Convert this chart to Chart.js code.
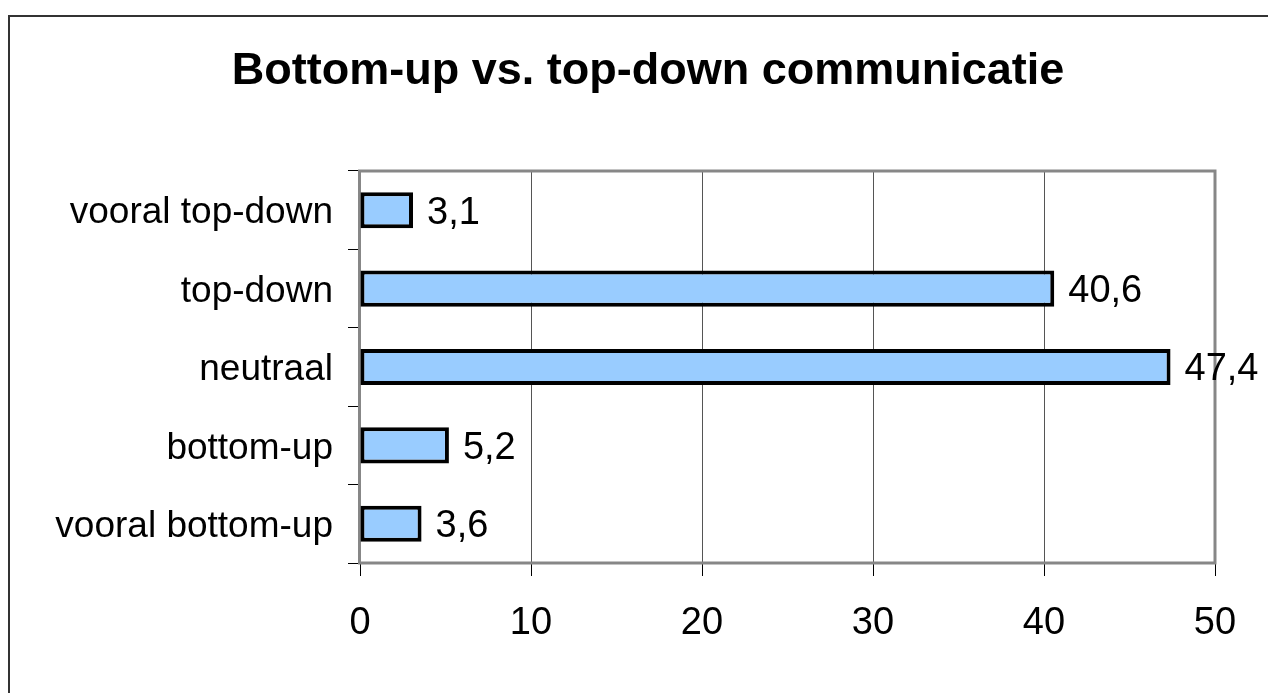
<!DOCTYPE html>
<html>
<head>
<meta charset="utf-8">
<script src="https://cdn.jsdelivr.net/npm/chart.js@4.4.1/dist/chart.umd.min.js"></script>
<style>
  html, body { margin: 0; padding: 0; background: #ffffff; }
  #wrap { position: absolute; left: 0; top: 0; width: 1268px; height: 693px; }
</style>
</head>
<body>
<div id="wrap"><canvas id="c" width="1268" height="693"></canvas></div>
<script>
const chartTitle = 'Bottom-up vs. top-down communicatie';
const categories = ['vooral top-down', 'top-down', 'neutraal', 'bottom-up', 'vooral bottom-up'];
const values = [3.1, 40.6, 47.4, 5.2, 3.6];
const xTicks = [0, 10, 20, 30, 40, 50];

const FONT = '"Liberation Sans", Arial, Helvetica, sans-serif';

const frame = {
  id: 'frame',
  beforeDraw(chart) {
    const ctx = chart.ctx;
    ctx.save();
    ctx.fillStyle = '#ffffff';
    ctx.fillRect(0, 0, chart.width, chart.height);
    ctx.strokeStyle = '#333333';
    ctx.lineWidth = 2;
    ctx.beginPath();
    ctx.moveTo(9, chart.height + 5);
    ctx.lineTo(9, 16);
    ctx.lineTo(chart.width + 5, 16);
    ctx.stroke();
    ctx.restore();
  },
  beforeDatasetsDraw(chart) {
    const a = chart.chartArea;
    const ctx = chart.ctx;
    ctx.save();
    ctx.strokeStyle = '#878787';
    ctx.lineWidth = 3;
    ctx.strokeRect(a.left - 0.5, a.top, a.right - a.left + 0.5, a.bottom - a.top);
    ctx.restore();
  },
  afterDatasetsDraw(chart) {
    const ctx = chart.ctx;
    const meta = chart.getDatasetMeta(0);
    ctx.save();
    ctx.fillStyle = '#000000';
    ctx.font = '38px ' + FONT;
    ctx.textAlign = 'left';
    ctx.textBaseline = 'middle';
    meta.data.forEach((bar, i) => {
      const txt = String(values[i]).replace('.', ',');
      ctx.fillText(txt, bar.x + 14, bar.y + 3);
    });
    ctx.restore();
  }
};

new Chart(document.getElementById('c'), {
  type: 'bar',
  data: {
    labels: categories,
    datasets: [{
      data: values,
      backgroundColor: '#99CCFF',
      borderColor: '#000000',
      borderWidth: 4,
      borderSkipped: false,
      categoryPercentage: 1,
      barPercentage: 0.46,
      yAxisID: 'y'
    }]
  },
  options: {
    indexAxis: 'y',
    responsive: false,
    devicePixelRatio: 1,
    animation: false,
    layout: { padding: { left: 28, right: 0, top: 0, bottom: 0 } },
    plugins: {
      legend: { display: false },
      tooltip: { enabled: false },
      title: {
        display: true,
        text: chartTitle,
        color: '#000000',
        font: { family: FONT, size: 45, weight: 'bold' },
        padding: { top: 45, bottom: 72 }
      }
    },
    scales: {
      x: {
        type: 'linear',
        min: 0,
        max: 50,
        afterBuildTicks(scale) { scale.ticks = xTicks.map(v => ({ value: v })); },
        afterFit(scale) { scale.height = 130; },
        border: { display: false },
        grid: {
          color: '#555555',
          lineWidth: 1,
          tickColor: '#000000',
          tickLength: 13,
          drawOnChartArea: true
        },
        ticks: {
          color: '#000000',
          font: { family: FONT, size: 38 },
          padding: 25,
          maxRotation: 0
        }
      },
      y: {
        type: 'category',
        position: 'left',
        afterFit(scale) { scale.width = 332; },
        border: { display: false },
        grid: {
          offset: true,
          drawOnChartArea: false,
          tickColor: '#000000',
          tickLength: 12,
          lineWidth: 1
        },
        ticks: {
          color: '#000000',
          font: { family: FONT, size: 37 },
          padding: 15,
          labelOffset: 3
        }
      },
      spacer: {
        type: 'linear',
        position: 'right',
        display: true,
        afterFit(scale) { scale.width = 53; },
        border: { display: false },
        grid: { display: false, drawOnChartArea: false },
        ticks: { display: false }
      }
    }
  },
  plugins: [frame]
});
</script>
</body>
</html>
